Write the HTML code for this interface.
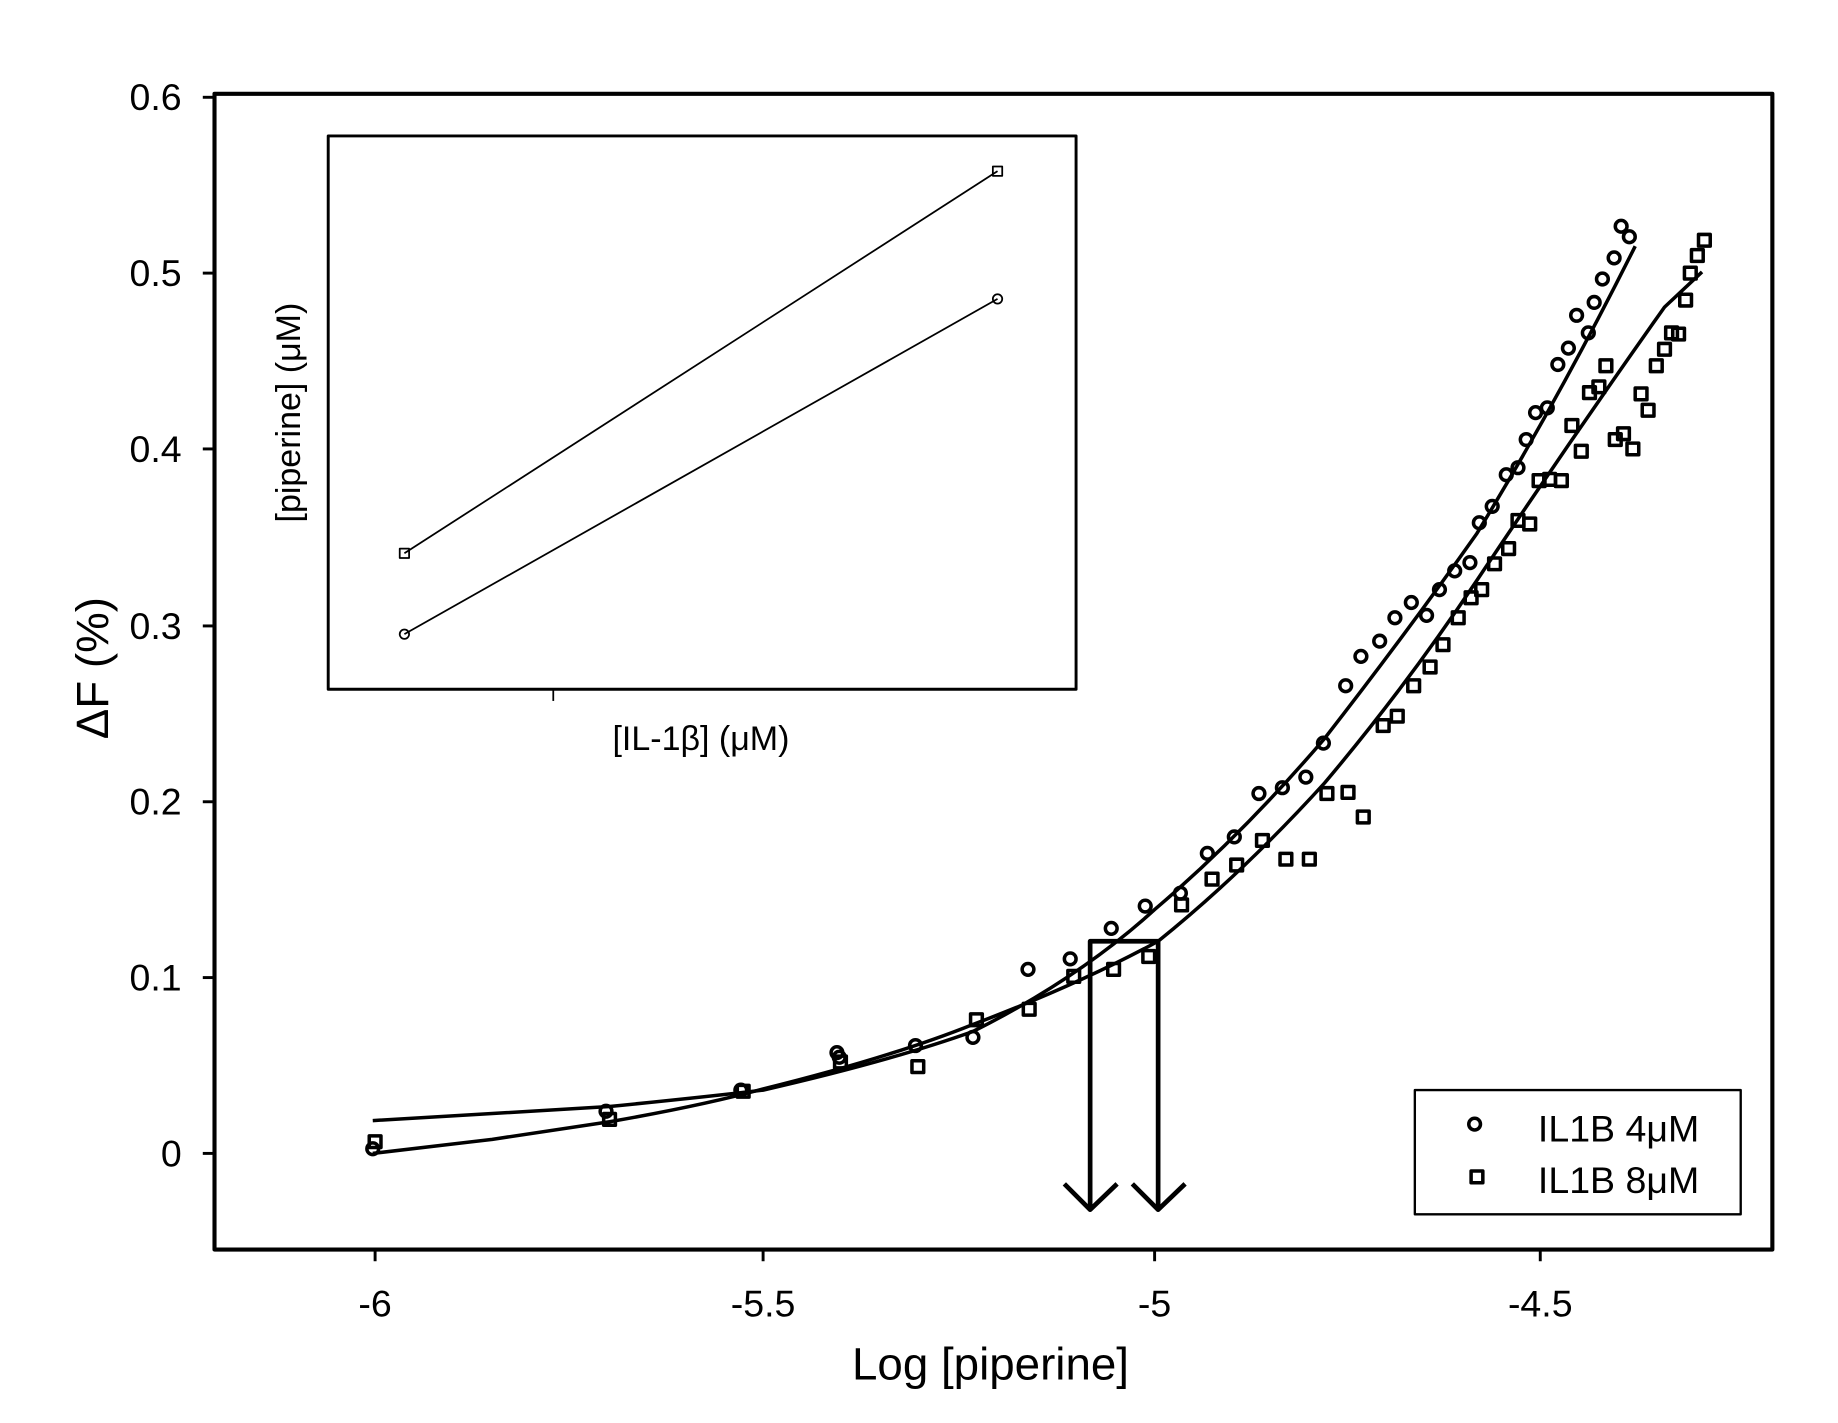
<!DOCTYPE html>
<html><head><meta charset="utf-8"><style>html,body{margin:0;padding:0;background:#fff}svg{display:block}</style></head><body>
<svg width="1838" height="1423" viewBox="0 0 1568 1214" preserveAspectRatio="none" xmlns="http://www.w3.org/2000/svg" font-family="Liberation Sans, sans-serif" fill="none" stroke="#000" stroke-linejoin="round">
<rect x="183" y="80" width="1329" height="986" stroke-width="3.5"/>
<g stroke-width="2.5">
<line x1="173" y1="83" x2="183" y2="83"/><line x1="173" y1="233" x2="183" y2="233"/><line x1="173" y1="383" x2="183" y2="383"/><line x1="173" y1="534" x2="183" y2="534"/><line x1="173" y1="684" x2="183" y2="684"/><line x1="173" y1="834" x2="183" y2="834"/><line x1="173" y1="984" x2="183" y2="984"/>
<line x1="320" y1="1066" x2="320" y2="1076"/><line x1="651" y1="1066" x2="651" y2="1076"/><line x1="985" y1="1066" x2="985" y2="1076"/><line x1="1314" y1="1066" x2="1314" y2="1076"/>
</g>
<g fill="#000" stroke="none" font-size="32" text-anchor="end">
<text x="155" y="94">0.6</text><text x="155" y="244">0.5</text><text x="155" y="394">0.4</text><text x="155" y="545">0.3</text><text x="155" y="695">0.2</text><text x="155" y="845">0.1</text><text x="155" y="995">0</text>
</g>
<g fill="#000" stroke="none" font-size="32" text-anchor="middle">
<text x="320" y="1123">-6</text><text x="651" y="1123">-5.5</text><text x="985" y="1123">-5</text><text x="1314" y="1123">-4.5</text>
<text x="845" y="1177" font-size="39">Log [piperine]</text>
<text transform="translate(92,570) rotate(-90)" font-size="39">ΔF (%)</text>
</g>
<rect x="280" y="116" width="638" height="472" stroke-width="2.5"/>
<line x1="472" y1="588" x2="472" y2="598" stroke-width="1.5"/>
<g fill="#000" stroke="none" font-size="29" text-anchor="middle">
<text x="598" y="640">[IL-1β] (μM)</text>
<text transform="translate(256,352) rotate(-90)">[piperine] (μM)</text>
</g>
<g stroke-width="1.5">
<line x1="345" y1="472" x2="851" y2="146"/><line x1="345" y1="541" x2="851" y2="255"/>
<rect x="341" y="468" width="8" height="8"/><rect x="847" y="142" width="8" height="8"/>
<circle cx="345" cy="541" r="4"/><circle cx="851" cy="255" r="4"/>
</g>
<g stroke-width="3">
<path d="M318,956 L420,950 L520,944 Q600,936 651,930 Q760,905 830,880 Q920,835 985,776 Q1060,712 1130,630 Q1200,540 1260,455 Q1330,340 1395,210"/>
<path d="M318,984 L420,972 L520,957 Q600,943 651,929 Q760,902 830,874 Q920,840 988,803 Q1060,745 1130,668 Q1200,585 1260,495 Q1340,375 1420,262 L1452,232"/>
</g>
<g stroke-width="3">
<circle cx="318" cy="980" r="5"/><circle cx="517" cy="948" r="5"/><circle cx="632" cy="930" r="5"/><circle cx="714" cy="898" r="5"/><circle cx="716" cy="902" r="5"/><circle cx="781" cy="892" r="5"/><circle cx="830" cy="885" r="5"/><circle cx="877" cy="827" r="5"/><circle cx="913" cy="818" r="5"/><circle cx="948" cy="792" r="5"/><circle cx="977" cy="773" r="5"/><circle cx="1007" cy="762" r="5"/><circle cx="1030" cy="728" r="5"/><circle cx="1053" cy="714" r="5"/><circle cx="1074" cy="677" r="5"/><circle cx="1094" cy="672" r="5"/><circle cx="1114" cy="663" r="5"/><circle cx="1129" cy="634" r="5"/><circle cx="1148" cy="585" r="5"/><circle cx="1161" cy="560" r="5"/><circle cx="1177" cy="547" r="5"/><circle cx="1190" cy="527" r="5"/><circle cx="1204" cy="514" r="5"/><circle cx="1217" cy="525" r="5"/><circle cx="1228" cy="503" r="5"/><circle cx="1241" cy="487" r="5"/><circle cx="1254" cy="480" r="5"/><circle cx="1262" cy="446" r="5"/><circle cx="1273" cy="432" r="5"/><circle cx="1285" cy="405" r="5"/><circle cx="1295" cy="399" r="5"/><circle cx="1302" cy="375" r="5"/><circle cx="1310" cy="352" r="5"/><circle cx="1320" cy="348" r="5"/><circle cx="1329" cy="311" r="5"/><circle cx="1338" cy="297" r="5"/><circle cx="1345" cy="269" r="5"/><circle cx="1355" cy="284" r="5"/><circle cx="1360" cy="258" r="5"/><circle cx="1367" cy="238" r="5"/><circle cx="1377" cy="220" r="5"/><circle cx="1383" cy="193" r="5"/><circle cx="1390" cy="202" r="5"/>
</g>
<g stroke-width="3">
<rect x="315" y="969" width="10" height="10"/><rect x="515" y="950" width="10" height="10"/><rect x="629" y="926" width="10" height="10"/><rect x="712" y="901" width="10" height="10"/><rect x="778" y="905" width="10" height="10"/><rect x="828" y="865" width="10" height="10"/><rect x="873" y="856" width="10" height="10"/><rect x="911" y="828" width="10" height="10"/><rect x="945" y="822" width="10" height="10"/><rect x="975" y="811" width="10" height="10"/><rect x="1003" y="767" width="10" height="10"/><rect x="1029" y="745" width="10" height="10"/><rect x="1050" y="733" width="10" height="10"/><rect x="1072" y="712" width="10" height="10"/><rect x="1092" y="728" width="10" height="10"/><rect x="1112" y="728" width="10" height="10"/><rect x="1127" y="672" width="10" height="10"/><rect x="1145" y="671" width="10" height="10"/><rect x="1158" y="692" width="10" height="10"/><rect x="1175" y="614" width="10" height="10"/><rect x="1187" y="606" width="10" height="10"/><rect x="1201" y="580" width="10" height="10"/><rect x="1215" y="564" width="10" height="10"/><rect x="1226" y="545" width="10" height="10"/><rect x="1239" y="522" width="10" height="10"/><rect x="1250" y="505" width="10" height="10"/><rect x="1259" y="498" width="10" height="10"/><rect x="1270" y="476" width="10" height="10"/><rect x="1282" y="463" width="10" height="10"/><rect x="1290" y="439" width="10" height="10"/><rect x="1300" y="442" width="10" height="10"/><rect x="1308" y="405" width="10" height="10"/><rect x="1317" y="404" width="10" height="10"/><rect x="1327" y="405" width="10" height="10"/><rect x="1336" y="358" width="10" height="10"/><rect x="1344" y="380" width="10" height="10"/><rect x="1351" y="330" width="10" height="10"/><rect x="1359" y="325" width="10" height="10"/><rect x="1365" y="307" width="10" height="10"/><rect x="1373" y="370" width="10" height="10"/><rect x="1380" y="365" width="10" height="10"/><rect x="1388" y="378" width="10" height="10"/><rect x="1395" y="331" width="10" height="10"/><rect x="1401" y="345" width="10" height="10"/><rect x="1408" y="307" width="10" height="10"/><rect x="1415" y="293" width="10" height="10"/><rect x="1421" y="279" width="10" height="10"/><rect x="1427" y="280" width="10" height="10"/><rect x="1433" y="251" width="10" height="10"/><rect x="1437" y="228" width="10" height="10"/><rect x="1443" y="213" width="10" height="10"/><rect x="1449" y="200" width="10" height="10"/>
</g>
<g stroke-width="4">
<polyline points="930,1030 930,803 988,803 988,1030"/>
<polyline points="908,1010 930,1032 953,1010"/>
<polyline points="966,1010 988,1032 1011,1010"/>
</g>
<rect x="1207" y="930" width="278" height="106" stroke-width="2"/>
<circle cx="1258" cy="959" r="5" stroke-width="3"/>
<rect x="1255" y="999" width="10" height="10" stroke-width="3"/>
<g fill="#000" stroke="none" font-size="32">
<text x="1312" y="974">IL1B 4μM</text>
<text x="1312" y="1018">IL1B 8μM</text>
</g>
</svg>
</body></html>
